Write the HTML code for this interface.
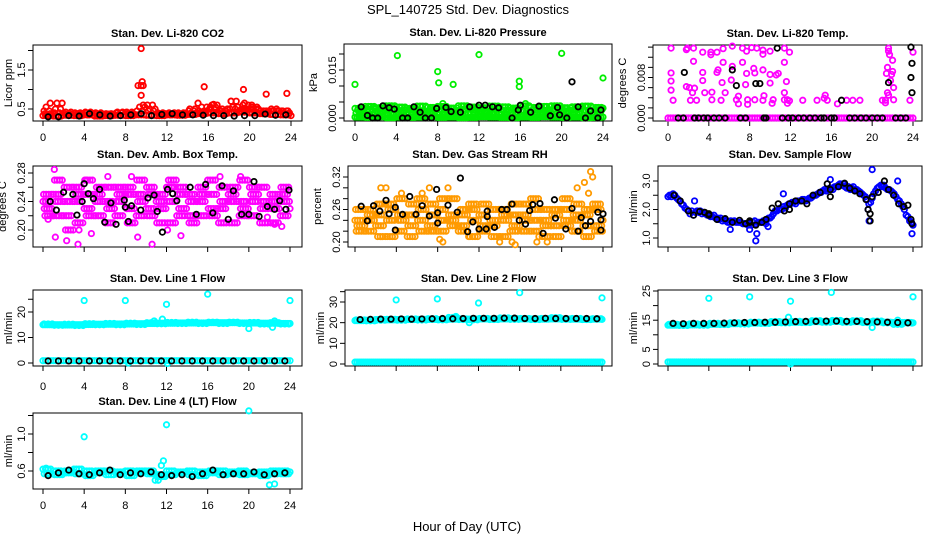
<!DOCTYPE html>
<html><head><meta charset="utf-8"><title>SPL_140725 Std. Dev. Diagnostics</title>
<style>
html,body{margin:0;padding:0;background:#fff;}
svg{display:block;font-family:"Liberation Sans",Arial,sans-serif;}
.t{font-weight:bold;font-size:11px;}
.tk{font-size:11px;}
</style></head>
<body>
<svg id="chart" width="936" height="540" viewBox="0 0 936 540">
<rect x="0" y="0" width="936" height="540" fill="#fff"/>
<text x="468" y="14" text-anchor="middle" font-size="13">SPL_140725  Std. Dev. Diagnostics</text>
<text x="467" y="531" text-anchor="middle" font-size="13">Hour of Day (UTC)</text>
</svg>
<script>
// ---------- data ----------
const xTicks=[0,4,8,12,16,20,24];
// P1 CO2
const co2RowA=[0.45,0.4,0.38,0.4,0.42,0.4,0.38,0.4,0.42,0.45,0.6,0.4,0.38,0.4,0.45,0.45,0.5,0.45,0.5,0.45,0.5,0.45,0.5,0.45,0.4];
const co2RowB=[0.35,0.65,0.35,0.38,0.35,0.35,0.37,0.35,0.36,0.55,0.5,0.38,0.35,0.35,0.4,0.55,0.6,0.5,0.55,0.6,0.5,0.45,0.45,0.4,0.35];
const co2RowC=[0.38,0.5,0.42,0.36,0.4,0.38,0.35,0.42,0.38,1.1,0.45,0.36,0.4,0.38,0.5,0.4,0.55,0.45,0.7,0.5,0.55,0.4,0.45,0.45,0.33];
const co2RowD=[0.33,0.32,0.34,0.33,0.35,0.32,0.33,0.34,0.33,0.35,0.34,0.33,0.35,0.34,0.36,0.38,0.4,0.38,0.4,0.42,0.4,0.38,0.36,0.35,0.33];
const co2Out=[[9.5,2.05],[9.6,1.2],[9.5,1.1],[9.5,0.85],[15.6,1.07],[19.4,1.0],[21.6,0.88],[23.6,0.9],[18.2,0.7],[15,0.65],[19.5,0.65],[0.7,0.65],[20.2,0.6],[16.5,0.62],[0.3,0.55],[9.7,0.6]];
const co2Black=[0.3,0.3,0.33,0.32,0.38,0.35,0.32,0.33,0.35,0.38,0.33,0.36,0.38,0.35,0.35,0.34,0.33,0.33,0.32,0.33,0.33,0.37,0.34,0.35];
// P2 Pressure
const presRowA=[0.0003,0.0002,0.0004,0.0001,0.0003,0.0002,0.0003,0.0004,0.0002,0.0003,0.0001,0.0002,0.0004,0.0003,0.0002,0.0001,0.0003,0.0002,0.0004,0.0003,0.0002,0.0003,0.0001,0.0002,0.0003];
const presRowB=[0.0015,0.001,0.002,0.0012,0.0018,0.001,0.0015,0.002,0.0012,0.0016,0.001,0.0018,0.0014,0.002,0.0012,0.0016,0.001,0.0018,0.0015,0.0012,0.002,0.0014,0.001,0.0016,0.0012];
const presRowC=[0.003,0.0036,0.0032,0.0038,0.0034,0.003,0.0037,0.0033,0.0036,0.0031,0.0038,0.0034,0.0032,0.0037,0.0035,0.0031,0.0038,0.0033,0.0036,0.0038,0.0032,0.0035,0.0037,0.0033,0.0031];
const presRowD=[0.0025,0.0028,0.0022,0.0026,0.0024,0.0029,0.0021,0.0027,0.0025,0.0023,0.0028,0.0026,0.0022,0.0027,0.0024,0.0028,0.0021,0.0026,0.0025,0.0029,0.0023,0.0027,0.0024,0.0026,0.0022];
const presOut=[[0,0.0105],[4.1,0.0195],[8,0.0145],[8.1,0.011],[9.5,0.0105],[12,0.0198],[15.9,0.0115],[15.9,0.0098],[20,0.0202],[24,0.0125],[16.5,0.0045],[8.5,0.0045]];
const presBlack=[[0.6,0.0035],[1.2,0.0008],[1.7,0],[2.2,0],[2.7,0.0038],[3.3,0.0032],[3.8,0.0028],[4.6,0],[5.1,0],[5.7,0.0035],[6.3,0.0018],[6.8,0],[7.4,0],[7.9,0.003],[8.8,0.0033],[9.3,0.002],[10.2,0.0018],[11.1,0.0035],[12,0.004],[12.6,0.004],[13.3,0.0035],[13.9,0.0032],[15.2,0],[15.8,0.0025],[16,0.004],[17,0.0018],[17.8,0.0037],[18.9,0.0007],[19.6,0.0033],[19.8,0.001],[20.5,0],[21,0.0113],[21.6,0.0035],[22.3,0],[22.8,0.0022],[23.5,0],[23.8,0.0025]];
// P3 Li-820 temp
const tempZero=[0,0,0,0,0,0,0,0,0,0,0,0,0,0,0,0,0,0,0,0,0,0,0,0,0];
const tempPts=[[0.3,0.0138],[0.3,0.0089],[0.3,0.0073],[0.3,0.0055],[0.5,0.0035],[1.8,0.0135],[1.9,0.0138],[1.8,0.0062],[2.1,0.006],[2.4,0.005],[2.5,0.0138],[2.6,0.0059],[2.5,0.0112],[2.2,0.0035],[2.8,0.0035],[3.4,0.013],[3.4,0.009],[3.4,0.0074],[3.6,0.005],[4.2,0.013],[4.2,0.0125],[4.3,0.0036],[4.3,0.0051],[4.8,0.013],[4.9,0.0095],[4.8,0.009],[5.2,0.0035],[5.3,0.007],[5.4,0.0137],[5.4,0.011],[5.6,0.005],[6.3,0.0142],[6.3,0.0102],[6.2,0.0075],[6.7,0.0036],[6.9,0.0043],[6.9,0.0028],[7.3,0.0138],[7.3,0.011],[7.7,0.0132],[7.7,0.0088],[7.6,0.0066],[7.8,0.0027],[7.8,0.0036],[8.2,0.0139],[8.4,0.0098],[8.5,0.0089],[8.5,0.0036],[8.7,0.0138],[9.3,0.0134],[9.3,0.0126],[9.3,0.0095],[9.4,0.0044],[9.3,0.0035],[10,0.0132],[10,0.0086],[10,0.0069],[10.2,0.0029],[10.3,0.0036],[10.6,0.0085],[10.8,0.0088],[11.4,0.0138],[11.4,0.011],[11.4,0.005],[11.4,0.0036],[11.6,0.0072],[11.7,0.0029],[11.7,0.0036],[11.9,0.013],[11.9,0.0034],[13.2,0.0035],[14.6,0.0035],[15.3,0.0039],[15.4,0.0045],[15.6,0.0035],[16.6,0.0028],[17.5,0.0035],[18.1,0.0035],[18.8,0.0035],[21,0.0035],[21.3,0.003],[21.3,0.0035],[21.4,0.0088],[21.5,0.01],[21.6,0.0138],[21.7,0.0125],[21.6,0.0045],[21.8,0.0074],[21.9,0.0086],[22,0.0092],[22,0.0114],[22.1,0.006],[22.1,0.0036],[23.7,0.0035],[24,0.013],[21.5,0.005],[21.6,0.0132]];
const tempBlack=[[1.6,0.009],[6.3,0.0095],[6.7,0.0064],[8.6,0.0068],[9,0.0068],[10.7,0.0138],[17,0.0035],[21.6,0.007],[23.8,0.014],[23.9,0.0108],[23.8,0.008],[23.9,0.005]];
const tempBlackZero=[1,1.5,2.6,3,3.5,3.9,4.5,5,5.6,7.1,7.6,9.4,9.6,11.2,11.8,12.2,12.8,13.3,13.9,14.4,15,15.3,16,16.3,17.8,18.3,18.9,19.4,20,20.5,21,22.3,22.8,23.3];
// P4 Amb box temp
const ambRowA=[0.24,0.25,0.22,0.26,0.23,0.25,0.24,0.22,0.26,0.25,0.23,0.24,0.26,0.22,0.25,0.24,0.27,0.23,0.25,0.24,0.22,0.26,0.24,0.25,0.23];
const ambRowB=[0.23,0.27,0.24,0.21,0.25,0.22,0.26,0.24,0.23,0.27,0.22,0.25,0.21,0.26,0.24,0.22,0.25,0.26,0.21,0.27,0.24,0.23,0.21,0.26,0.24];
const ambRowC=[0.25,0.22,0.26,0.24,0.27,0.24,0.21,0.26,0.25,0.22,0.26,0.21,0.24,0.25,0.22,0.26,0.23,0.21,0.24,0.22,0.26,0.21,0.25,0.22,0.25];
const ambRowD=[0.22,0.24,0.2,0.25,0.22,0.26,0.23,0.25,0.21,0.24,0.25,0.23,0.27,0.23,0.21,0.25,0.22,0.24,0.26,0.23,0.25,0.24,0.23,0.24,0.22];
const ambOut=[[0.5,0.215],[1.1,0.285],[1.2,0.19],[2.3,0.185],[3.4,0.18],[3.5,0.2],[4.7,0.195],[8.6,0.275],[9.2,0.19],[12.1,0.2],[13.4,0.192],[6.3,0.275],[17.2,0.275],[19.2,0.275],[21.8,0.218],[22.5,0.208],[23.2,0.205],[4.2,0.27],[10.6,0.18]];
const ambBlack=[[0.7,0.24],[1.3,0.228],[2,0.253],[2.9,0.25],[3.3,0.221],[3.8,0.24],[4,0.265],[4.4,0.251],[4.9,0.244],[5.5,0.257],[6,0.211],[6.6,0.238],[7.1,0.208],[7.9,0.242],[8,0.232],[8.3,0.212],[8.6,0.234],[9.5,0.228],[10.2,0.245],[10.8,0.249],[11.1,0.226],[11.6,0.197],[12.1,0.257],[12.6,0.251],[13,0.241],[14.3,0.26],[14.9,0.222],[15.8,0.264],[16.5,0.224],[17.4,0.262],[18,0.215],[18.5,0.255],[19.3,0.222],[20,0.222],[20.5,0.268],[21,0.219],[21.8,0.233],[22.5,0.229],[23,0.241],[23.6,0.229],[23.9,0.256]];
// P5 Gas stream RH
const rhRowA=[0.24,0.26,0.23,0.27,0.22,0.25,0.28,0.23,0.26,0.24,0.22,0.27,0.25,0.23,0.26,0.22,0.25,0.28,0.24,0.23,0.26,0.22,0.25,0.27,0.24];
const rhRowB=[0.22,0.24,0.27,0.21,0.25,0.23,0.26,0.22,0.24,0.28,0.25,0.21,0.23,0.26,0.24,0.27,0.22,0.24,0.21,0.26,0.23,0.25,0.21,0.23,0.26];
const rhRowC=[0.26,0.22,0.25,0.24,0.28,0.21,0.24,0.27,0.22,0.25,0.23,0.26,0.22,0.24,0.21,0.25,0.27,0.22,0.26,0.25,0.28,0.24,0.23,0.26,0.22];
const rhRowD=[0.23,0.25,0.21,0.26,0.24,0.27,0.22,0.25,0.28,0.23,0.26,0.24,0.27,0.21,0.25,0.23,0.24,0.26,0.23,0.21,0.24,0.27,0.26,0.22,0.25];
const rhOut=[[8.5,0.2],[9,0.3],[8.2,0.205],[15.2,0.2],[15.5,0.195],[17.6,0.2],[17.8,0.21],[18.6,0.2],[21.5,0.3],[22.2,0.31],[22.8,0.33],[23,0.32],[22.6,0.29],[2.5,0.3],[3,0.3],[4.5,0.29],[7.2,0.3],[6.5,0.29],[11,0.21],[14,0.2]];
const rhBlack=[[0.6,0.266],[1.2,0.239],[1.8,0.267],[2.4,0.257],[3,0.277],[3.9,0.264],[3.9,0.222],[3.3,0.252],[4.6,0.251],[5.3,0.284],[5.9,0.251],[6.5,0.267],[7.2,0.248],[7.9,0.297],[8,0.254],[8,0.235],[9,0.268],[9.9,0.255],[10.2,0.318],[10.9,0.219],[11.4,0.237],[12,0.224],[12.7,0.224],[12.8,0.257],[12.8,0.247],[13.5,0.227],[14.2,0.26],[14.7,0.26],[15.2,0.27],[15.9,0.24],[16.5,0.233],[16.9,0.258],[17.2,0.269],[17.9,0.271],[18.2,0.216],[19.3,0.278],[19.4,0.244],[20.4,0.224],[21,0.262],[21.6,0.22],[21.9,0.245],[22.3,0.23],[22.8,0.238],[23.5,0.255],[23.8,0.241],[23.8,0.222],[24,0.252]];
// P6 Sample flow
const flowRowA=[2.45,2.35,1.95,1.9,1.8,1.65,1.55,1.55,1.5,1.55,1.7,2.05,2.2,2.3,2.4,2.6,2.75,2.85,2.75,2.55,2.4,2.8,2.6,2.1,1.45];
const flowRowB=[2.45,2.2,1.95,1.85,1.75,1.6,1.55,1.5,1.55,1.6,1.85,2.1,2.25,2.35,2.5,2.7,2.8,2.8,2.7,2.45,2.65,2.75,2.45,1.8,null];
const flowRowC=[2.5,2.05,1.9,1.85,1.7,1.6,1.55,1.5,1.5,1.65,1.95,2.15,2.3,2.35,2.55,2.7,2.85,2.8,2.65,2.2,2.8,2.7,2.3,1.6,null];
const flowRowD=[2.5,2.3,1.85,1.95,1.75,1.7,1.6,1.55,1.45,1.55,1.75,2,2.25,2.35,2.45,2.65,2.7,2.9,2.8,2.5,2.55,2.85,2.55,2,null];
const flowRowE=[2.55,2.15,1.8,1.9,1.8,1.65,1.6,1.5,1.6,1.6,1.95,2.05,2.2,2.3,2.5,2.65,2.8,2.75,2.7,2.35,2.75,2.7,2.35,1.75,null];
const flowRowF=[2.4,2,1.95,1.8,1.7,1.55,1.55,1.45,1.55,1.7,2,2.2,2.3,2.4,2.6,2.75,2.9,2.7,2.6,2.25,2.85,2.65,2.2,1.55,null];
const flowOut=[[20,3.4],[8.6,0.9],[8.7,1.15],[9.6,1.5],[9.8,1.4],[11.3,2.55],[15.9,3.05],[22.5,3],[23.9,1.15],[2.6,2.3],[6.1,1.3],[8,1.3],[19.6,2],[19.7,1.6]];
const flowBlack=[[0.6,2.5],[1.2,2.3],[2,1.95],[2.5,1.8],[3.1,1.93],[3.6,1.9],[4,1.85],[4,1.8],[4.8,1.65],[5.6,1.68],[6.3,1.55],[7,1.62],[7.6,1.5],[8,1.55],[8,1.6],[8.6,1.45],[9.2,1.55],[9.6,1.65],[10.2,2.05],[10.8,2.2],[11.4,1.95],[11.9,2],[11.9,2.2],[12.5,2.3],[13.1,2.3],[13.6,2.2],[14.2,2.5],[14.9,2.6],[15.6,2.9],[15.9,2.45],[15.9,2.7],[16.7,2.8],[17.3,2.92],[17.8,2.75],[18.3,2.65],[18.8,2.55],[19.4,2.35],[19.6,2],[19.8,1.85],[19.8,1.6],[20,2.45],[20.6,2.6],[21.2,3],[21.6,2.7],[22.1,2.5],[22.6,2.2],[23.1,2.1],[23.5,2.15],[23.8,1.65],[23.9,1.5]];
// P7 Line 1
const l1RowA=[15,15,14.9,15,15.1,15.2,15.2,15.3,15.3,15.4,15.5,15.6,15.6,15.7,15.7,15.7,15.8,15.8,15.8,15.7,15.7,15.6,15.6,15.5,15.5];
const l1RowB=[15.3,14.8,15.2,14.7,15.4,15,15.5,15,15.6,15.1,15.8,15.4,15.9,15.5,16,15.5,16,15.5,16,15.5,15.9,15.3,15.8,15.3,15.7];
const l1Low=[0.9,0.9,0.9,0.9,0.9,0.9,0.9,0.9,0.9,0.9,0.9,0.9,0.9,0.9,0.9,0.9,0.9,0.9,0.9,0.9,0.9,0.9,0.9,0.9,0.9];
const l1Out=[[4,24.5],[8,24.5],[12,23],[16,27],[20,13.5],[24,24.5],[10.8,16.5],[11.6,17.2],[22.5,16.5],[22.3,14],[8.3,0],[12.1,-0.2]];
const l1Black=[0.8,0.8,0.8,0.8,0.8,0.8,0.8,0.8,0.8,0.8,0.8,0.8,0.8,0.8,0.8,0.8,0.8,0.8,0.8,0.8,0.8,0.8,0.8,0.8];
// P8 Line 2
const l2RowA=[21,21.2,21.5,21.4,21.5,21.5,21.6,21.6,21.5,21.7,21.8,21.7,21.8,21.7,21.8,21.9,21.8,21.8,21.7,21.8,21.8,21.7,21.6,21.7,21.6];
const l2RowB=[21.3,20.9,21.2,21.6,21.2,21.8,21.3,21.9,21.4,22.5,21.5,21.4,22,21.5,22.3,21.6,22,21.5,22,22.4,21.6,22,21.5,21.9,21.4];
const l2Low=[0.9,0.9,0.9,0.9,0.9,0.9,0.9,0.9,0.9,0.9,0.9,0.9,0.9,0.9,0.9,0.9,0.9,0.9,0.9,0.9,0.9,0.9,0.9,0.9,0.9];
const l2Out=[[4,31],[8,31.5],[12,29.5],[16,34.5],[24,32],[11.1,20],[9.8,23]];
const l2Black=[21.5,21.6,21.7,21.7,21.8,21.7,21.8,21.9,22,21.9,22,22.1,22.1,22.1,22.2,22.2,22,22,22.1,22,22,22,22,21.9];
// P9 Line 3
const l3RowA=[13.3,13.4,13.4,13.5,13.6,13.7,13.8,13.9,14,14.1,14.2,14.3,14.3,14.4,14.5,14.5,14.6,14.5,14.5,14.4,14.4,14.3,14.2,14.2,14.1];
const l3RowB=[13.6,13.2,13.7,13.3,13.9,13.5,14.1,13.7,14.3,13.9,14.5,14.1,14.6,14.2,14.8,14.3,14.9,14.3,14.8,14.2,14.7,14.1,13.6,14,13.8];
const l3Low=[0.7,0.7,0.7,0.7,0.7,0.7,0.7,0.7,0.7,0.7,0.7,0.7,0.7,0.7,0.7,0.7,0.7,0.7,0.7,0.7,0.7,0.7,0.7,0.7,0.7];
const l3Out=[[4,22.5],[8,23],[12,21.5],[16,24.5],[24,23],[20,12.5],[11.8,16],[22.5,15],[12,0]];
const l3Black=[13.9,13.8,13.9,13.9,13.9,14,14.1,14.2,14.2,14.3,14.3,14.4,14.5,14.6,14.6,14.7,14.7,14.6,14.6,14.5,14.4,14.3,14.2,14.1];
// P10 Line 4
const l4RowA=[0.62,0.6,0.58,0.62,0.6,0.58,0.6,0.59,0.6,0.58,0.6,0.56,0.6,0.58,0.6,0.59,0.58,0.6,0.57,0.6,0.58,0.59,0.57,0.6,0.59];
const l4RowB=[0.57,0.56,0.6,0.57,0.55,0.6,0.56,0.57,0.55,0.6,0.57,0.54,0.56,0.59,0.56,0.55,0.6,0.56,0.59,0.56,0.57,0.55,0.6,0.57,0.56];
const l4Out=[[4,0.97],[12,1.1],[20,1.25],[11.7,0.71],[11.5,0.66],[22,0.45],[22.5,0.46],[10.9,0.5],[11.2,0.5],[0.3,0.63]];
const l4Black=[0.55,0.58,0.61,0.57,0.56,0.58,0.61,0.56,0.58,0.57,0.59,0.56,0.55,0.56,0.54,0.57,0.61,0.56,0.57,0.57,0.59,0.56,0.57,0.58];
// y tick values / labels
const yt1=[0.5,1,1.5,2], yl1=["0.5","","1.5",""];
const yt2=[0,0.005,0.01,0.015,0.02], yl2=["0.000","","","0.015",""];
const yt3=[0,0.002,0.004,0.006,0.008,0.01,0.012,0.014], yl3=["0.000","","","","0.008","","",""];
const yt4=[0.2,0.22,0.24,0.26,0.28], yl4=["0.20","","0.24","","0.28"];
const yt5=[0.2,0.22,0.24,0.26,0.28,0.3,0.32], yl5=["0.20","","","0.26","","","0.32"];
const yt6=[1,1.5,2,2.5,3], yl6=["1.0","","2.0","","3.0"];
const yt7=[0,10,20,25], yl7=["0","10","20",""];
const yt8=[0,10,20,30,35], yl8=["0","10","20","30",""];
const yt9=[0,5,10,15,20,25], yl9=["0","5","","15","","25"];
const yt10=[0.6,0.8,1.0,1.2], yl10=["0.6","","1.0",""];

// ---------- rendering ----------
const svg=document.getElementById('chart');
const NS='http://www.w3.org/2000/svg';
function el(tag,a){const e=document.createElementNS(NS,tag);for(const k in a)e.setAttribute(k,a[k]);return e;}

const panels=[
 {id:'co2',title:'Stan. Dev. Li-820 CO2',yl:'Licor ppm',box:[33,45,302,121],xr:[43,291],yr:[[0.5,109],[1.5,70]],yt:yt1,ytl:yl1,xlab:137,col:'#ff0000'},
 {id:'pressure',title:'Stan. Dev. Li-820 Pressure',yl:'kPa',box:[344,44,612,121],xr:[355,603],yr:[[0,118],[0.015,70]],yt:yt2,ytl:yl2,xlab:137,col:'#00ee00'},
 {id:'licor-temp',title:'Stan. Dev. Li-820 Temp.',yl:'degrees C',box:[653,45,922,121],xr:[668,913],yr:[[0,118],[0.008,77.5]],yt:yt3,ytl:yl3,xlab:137,col:'#ff00ff'},
 {id:'amb-temp',title:'Stan. Dev. Amb. Box Temp.',yl:'degrees C',box:[33,166,302,247],xr:[43,290],yr:[[0.2,230],[0.28,173]],yt:yt4,ytl:yl4,xlab:null,col:'#ff00ff'},
 {id:'rh',title:'Stan. Dev. Gas Stream RH',yl:'percent',box:[348,166,612,247],xr:[355,603],yr:[[0.2,242],[0.32,177]],yt:yt5,ytl:yl5,xlab:null,col:'#ff9a00'},
 {id:'sample-flow',title:'Stan. Dev. Sample Flow',yl:'ml/min',box:[658,166,922,247],xr:[668,913],yr:[[1,238],[3,181]],yt:yt6,ytl:yl6,xlab:null,col:'#0000ff'},
 {id:'line1',title:'Stan. Dev. Line 1 Flow',yl:'ml/min',box:[33,290,302,366],xr:[43,290],yr:[[0,363],[20,312]],yt:yt7,ytl:yl7,xlab:386,col:'#00ffff'},
 {id:'line2',title:'Stan. Dev. Line 2 Flow',yl:'ml/min',box:[345,290,612,366],xr:[355,602],yr:[[0,364],[30,302]],yt:yt8,ytl:yl8,xlab:null,col:'#00ffff'},
 {id:'line3',title:'Stan. Dev. Line 3 Flow',yl:'ml/min',box:[658,290,922,366],xr:[668,913],yr:[[0,364],[25,291]],yt:yt9,ytl:yl9,xlab:null,col:'#00ffff'},
 {id:'line4',title:'Stan. Dev. Line 4 (LT) Flow',yl:'ml/min',box:[33,413,302,489],xr:[43,290],yr:[[0.6,471],[1.0,434]],yt:yt10,ytl:yl10,xlab:505,col:'#00ffff'}
];
const P={};
panels.forEach(p=>{
  const [l,t,r,b]=p.box;
  p.sx=v=>p.xr[0]+(p.xr[1]-p.xr[0])*v/24;
  const [[v1,p1],[v2,p2]]=p.yr;
  p.sy=v=>p1+(v-v1)*(p2-p1)/(v2-v1);
  const g=el('g',{});
  
  
  svg.appendChild(g);
  p.g=g;
  const tt=el('text',{x:(l+r)/2,y:t-8,'text-anchor':'middle',class:'t'});
  tt.textContent=p.title;
  
  
  g.appendChild(tt);
  const yt=el('text',{x:0,y:0,'text-anchor':'middle','font-size':'11',transform:`translate(${l-17-(p.ytl.some(s=>s.length>3)?6:0)-4},${(t+b)/2}) rotate(-90)`});
  yt.textContent=p.yl;
  
  
  g.appendChild(yt);
  xTicks.forEach(v=>{
    const x=p.sx(v);
    const ln=el('line',{x1:x,x2:x,y1:b,y2:b+5,stroke:'#000','stroke-width':1});
    
    
    g.appendChild(ln);
    if(p.xlab){
      const tx=el('text',{x:x,y:p.xlab+4,'text-anchor':'middle',class:'tk'});
      tx.textContent=v;
      
      
      g.appendChild(tx);
    }
  });
  p.yt.forEach((v,i)=>{
    const y=p.sy(v);
    const ln=el('line',{x1:l-5,x2:l,y1:y,y2:y,stroke:'#000','stroke-width':1});
    
    
    g.appendChild(ln);
    if(p.ytl[i]){
      const tx=el('text',{x:0,y:0,'text-anchor':'middle',class:'tk',transform:`translate(${l-8},${y}) rotate(-90)`});
      tx.textContent=p.ytl[i];
      
      
      g.appendChild(tx);
    }
  });
  const bx=el('rect',{x:l,y:t,width:r-l,height:b-t,fill:'none',stroke:'#000','stroke-width':1});
  
  
  g.appendChild(bx);
  P[p.id]=p;
});
function dot(p,x,y,c,name){
  if(y===null||y===undefined)return;
  const cc=el('circle',{cx:p.sx(x),cy:p.sy(y),r:2.7,fill:'none',stroke:c,'stroke-width':1.8});
  
  
  p.g.appendChild(cc);
}
function row(id,vals,offs,c,name){const p=P[id];offs.forEach(o=>vals.forEach((v,i)=>{if(i+o<=24)dot(p,i+o,v,c||p.col,name);}));}
function pairs(id,arr,c,name){const p=P[id];arr.forEach(d=>dot(p,d[0],d[1],c||p.col,name));}
function half(id,vals,c,name){const p=P[id];vals.forEach((v,i)=>dot(p,i+0.5,v,c,name));}
const K='#000';
row('co2',co2RowD,[0,0.25,0.5,0.75],null,'co2-point');
row('co2',co2RowA,[0.1,0.6],null,'co2-point');
row('co2',co2RowB,[0.35,0.85],null,'co2-point');
row('co2',co2RowC,[0.2,0.7],null,'co2-point');
pairs('co2',co2Out,null,'co2-point');
half('co2',co2Black,K,'co2-hourly-point');
row('pressure',presRowA,[0,0.2,0.4,0.6,0.8],null,'pressure-point');
row('pressure',presRowB,[0.1,0.45,0.75],null,'pressure-point');
row('pressure',presRowD,[0.25,0.6,0.9],null,'pressure-point');
row('pressure',presRowC,[0,0.3,0.55,0.85],null,'pressure-point');
pairs('pressure',presOut,null,'pressure-point');
pairs('pressure',presBlack,K,'pressure-hourly-point');
row('licor-temp',tempZero,[0,0.25,0.5,0.75],null,'licor-temp-point');
pairs('licor-temp',tempPts,null,'licor-temp-point');
tempBlackZero.forEach(x=>dot(P['licor-temp'],x,0,K,'licor-temp-hourly-point'));
pairs('licor-temp',tempBlack,K,'licor-temp-hourly-point');
row('amb-temp',ambRowA,[0,0.25,0.5,0.75],null,'amb-temp-point');
row('amb-temp',ambRowB,[0.12,0.37,0.62,0.87],null,'amb-temp-point');
row('amb-temp',ambRowC,[0.06,0.31,0.56,0.81],null,'amb-temp-point');
row('amb-temp',ambRowD,[0.19,0.44,0.69,0.94],null,'amb-temp-point');
pairs('amb-temp',ambOut,null,'amb-temp-point');
pairs('amb-temp',ambBlack,K,'amb-temp-hourly-point');
row('rh',rhRowA,[0,0.25,0.5,0.75],null,'rh-point');
row('rh',rhRowB,[0.12,0.37,0.62,0.87],null,'rh-point');
row('rh',rhRowC,[0.06,0.31,0.56,0.81],null,'rh-point');
row('rh',rhRowD,[0.19,0.44,0.69,0.94],null,'rh-point');
pairs('rh',rhOut,null,'rh-point');
pairs('rh',rhBlack,K,'rh-hourly-point');
row('sample-flow',flowRowA,[0],null,'sample-flow-point');
row('sample-flow',flowRowD,[0.15],null,'sample-flow-point');
row('sample-flow',flowRowB,[0.33],null,'sample-flow-point');
row('sample-flow',flowRowE,[0.5],null,'sample-flow-point');
row('sample-flow',flowRowC,[0.67],null,'sample-flow-point');
row('sample-flow',flowRowF,[0.85],null,'sample-flow-point');
pairs('sample-flow',flowOut,null,'sample-flow-point');
pairs('sample-flow',flowBlack,K,'sample-flow-hourly-point');
row('line1',l1RowA,[0,0.2,0.4,0.6,0.8],null,'line1-point');
row('line1',l1RowB,[0.1,0.5,0.9],null,'line1-point');
row('line1',l1Low,[0,0.25,0.5,0.75],null,'line1-point');
pairs('line1',l1Out,null,'line1-point');
half('line1',l1Black,K,'line1-hourly-point');
row('line2',l2RowA,[0,0.2,0.4,0.6,0.8],null,'line2-point');
row('line2',l2RowB,[0.1,0.5,0.9],null,'line2-point');
row('line2',l2Low,[0,0.2,0.4,0.6,0.8],null,'line2-point');
pairs('line2',l2Out,null,'line2-point');
half('line2',l2Black,K,'line2-hourly-point');
row('line3',l3RowA,[0,0.2,0.4,0.6,0.8],null,'line3-point');
row('line3',l3RowB,[0.1,0.5,0.9],null,'line3-point');
row('line3',l3Low,[0,0.2,0.4,0.6,0.8],null,'line3-point');
pairs('line3',l3Out,null,'line3-point');
half('line3',l3Black,K,'line3-hourly-point');
row('line4',l4RowA,[0,0.25,0.5,0.75],null,'line4-point');
row('line4',l4RowB,[0.12,0.37,0.62,0.87],null,'line4-point');
pairs('line4',l4Out,null,'line4-point');
half('line4',l4Black,K,'line4-hourly-point');
</script>
</body></html>
